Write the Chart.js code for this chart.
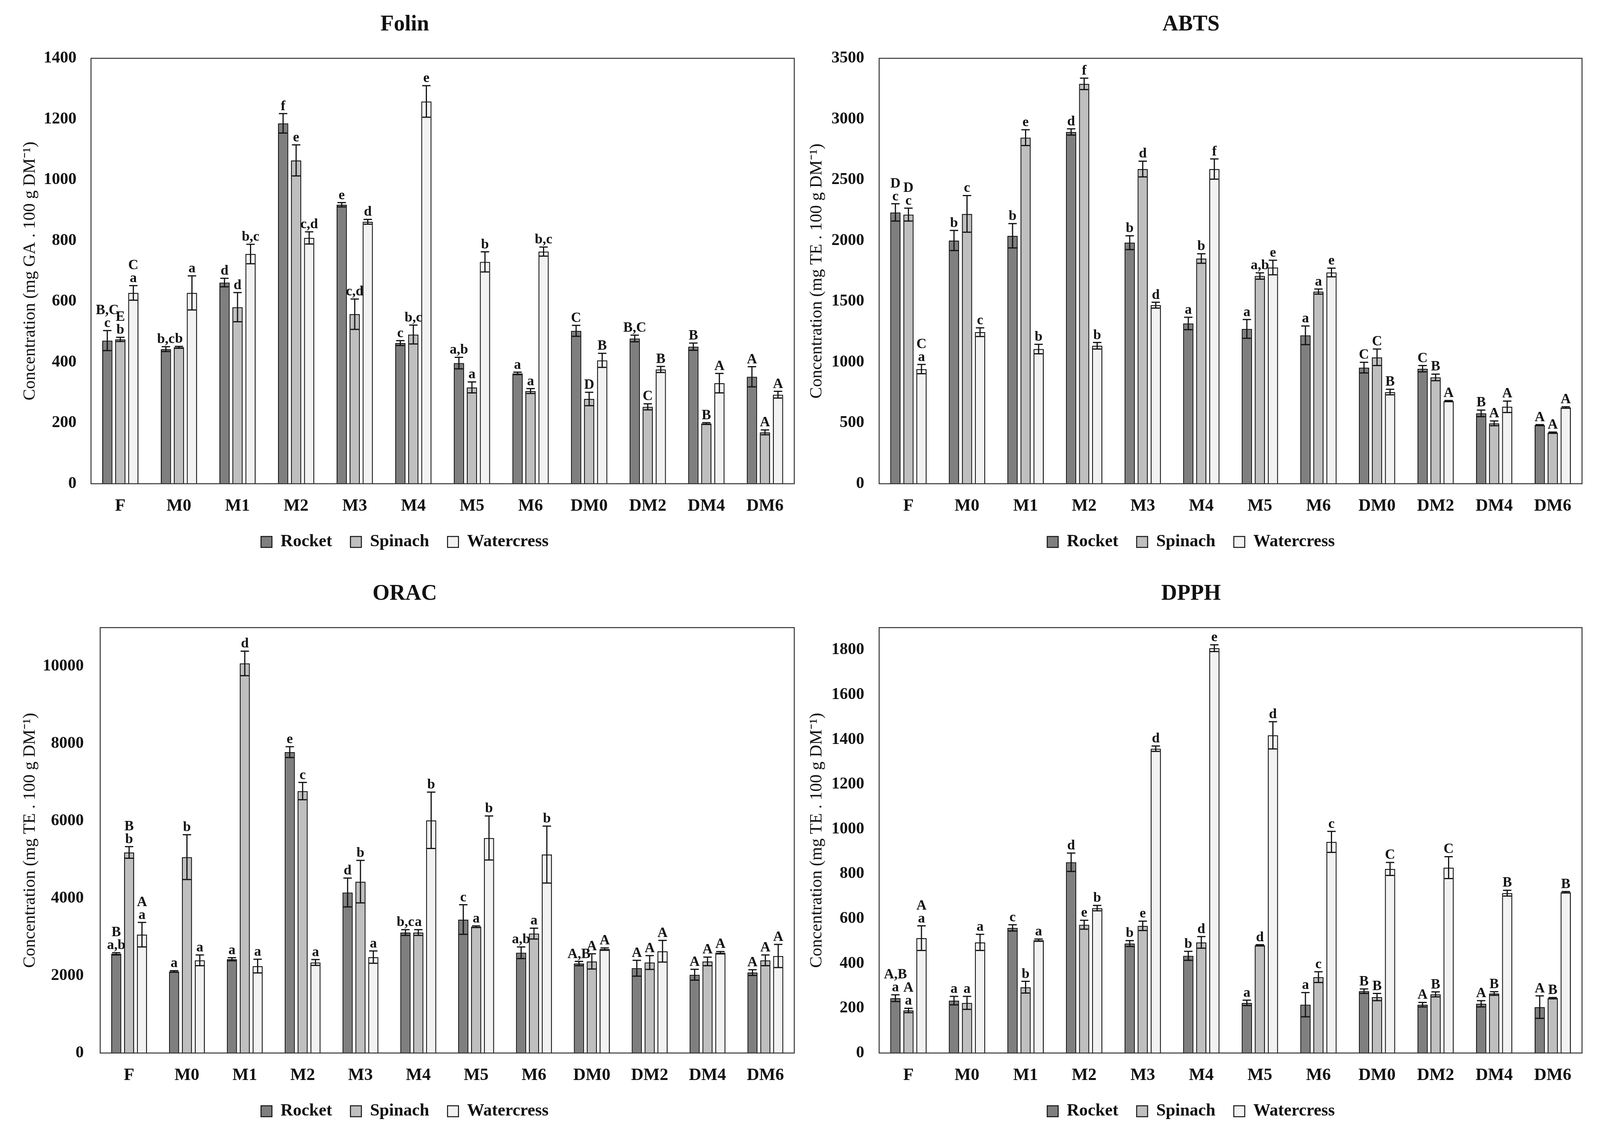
<!DOCTYPE html>
<html>
<head>
<meta charset="utf-8">
<script src="https://cdn.jsdelivr.net/npm/chart.js@4.4.1/dist/chart.umd.min.js"></script>
<style>
  html, body { margin: 0; padding: 0; background: #ffffff; overflow: hidden; }
  canvas { position: absolute; }
</style>
</head>
<body>
<canvas id="folin"></canvas>
<canvas id="abts"></canvas>
<canvas id="orac"></canvas>
<canvas id="dpph"></canvas>
<script>
// categories and series
const CATEGORIES = ['F', 'M0', 'M1', 'M2', 'M3', 'M4', 'M5', 'M6', 'DM0', 'DM2', 'DM4', 'DM6'];
const SERIES = ['Rocket', 'Spinach', 'Watercress'];

// Folin (mg GA . 100 g DM-1)
const FOLIN_ROCKET = [471, 443, 662, 1186, 918, 463, 397, 363, 503, 478, 451, 352];
const FOLIN_ROCKET_ERR = [33, 8, 14, 32, 7, 8, 19, 4, 18, 11, 12, 33];
const FOLIN_ROCKET_TAGS = ['B,C\nc', 'b,c', 'd', 'f', 'e', 'c', 'a,b', 'a', 'C', 'B,C', 'B', 'A'];
const FOLIN_SPINACH = [475, 449, 581, 1064, 558, 491, 317, 305, 279, 253, 198, 169];
const FOLIN_SPINACH_ERR = [7, 3, 48, 51, 50, 31, 18, 8, 22, 10, 3, 8];
const FOLIN_SPINACH_TAGS = ['E\nb', 'b', 'd', 'e', 'c,d', 'b,c', 'a', 'a', 'D', 'C', 'B', 'A'];
const FOLIN_WATERCRESS = [628, 628, 756, 809, 862, 1258, 730, 764, 406, 376, 331, 293];
const FOLIN_WATERCRESS_ERR = [24, 56, 32, 20, 8, 52, 33, 15, 23, 10, 32, 11];
const FOLIN_WATERCRESS_TAGS = ['C\na', 'a', 'b,c', 'c,d', 'd', 'e', 'b', 'b,c', 'B', 'B', 'A', 'A'];

// ABTS (mg TE . 100 g DM-1)
const ABTS_ROCKET = [2232, 2001, 2040, 2894, 1983, 1318, 1274, 1221, 955, 946, 579, 482];
const ABTS_ROCKET_ERR = [71, 83, 100, 26, 57, 51, 77, 77, 44, 26, 27, 4];
const ABTS_ROCKET_TAGS = ['D\nc', 'b', 'b', 'd', 'b', 'a', 'a', 'a', 'C', 'C', 'B', 'A'];
const ABTS_SPINACH = [2214, 2220, 2847, 3290, 2589, 1853, 1709, 1581, 1040, 875, 497, 420];
const ABTS_SPINACH_ERR = [53, 151, 65, 47, 65, 39, 26, 21, 68, 27, 20, 5];
const ABTS_SPINACH_TAGS = ['D\nc', 'c', 'e', 'f', 'd', 'b', 'a,b', 'a', 'C', 'B', 'A', 'A'];
const ABTS_WATERCRESS = [943, 1247, 1108, 1135, 1469, 2589, 1779, 1738, 754, 680, 633, 627];
const ABTS_WATERCRESS_ERR = [38, 36, 39, 27, 24, 83, 60, 36, 23, 5, 47, 6];
const ABTS_WATERCRESS_TAGS = ['C\na', 'c', 'b', 'b', 'd', 'f', 'e', 'e', 'B', 'A', 'A', 'A'];

// ORAC (mg TE . 100 g DM-1)
const ORAC_ROCKET = [2565, 2108, 2425, 7780, 4151, 3116, 3451, 2593, 2313, 2192, 2024, 2080];
const ORAC_ROCKET_ERR = [30, 20, 40, 140, 373, 75, 383, 150, 56, 205, 140, 75];
const ORAC_ROCKET_TAGS = ['B\na,b', 'a', 'a', 'e', 'd', 'b,c', 'c', 'a,b', 'A,B', 'A', 'A', 'A'];
const ORAC_SPINACH = [5187, 5065, 10075, 6772, 4431, 3116, 3265, 3088, 2369, 2341, 2369, 2397];
const ORAC_SPINACH_ERR = [150, 579, 317, 224, 550, 75, 20, 140, 196, 178, 112, 140];
const ORAC_SPINACH_TAGS = ['B\nb', 'b', 'd', 'c', 'b', 'a', 'a', 'a', 'A', 'A', 'A', 'A'];
const ORAC_WATERCRESS = [3060, 2397, 2248, 2341, 2481, 6017, 5560, 5131, 2687, 2631, 2593, 2509];
const ORAC_WATERCRESS_ERR = [317, 140, 177, 75, 159, 728, 569, 737, 30, 280, 30, 299];
const ORAC_WATERCRESS_TAGS = ['A\na', 'a', 'a', 'a', 'a', 'b', 'b', 'b', 'A', 'A', 'A', 'A'];

// DPPH (mg TE . 100 g DM-1)
const DPPH_ROCKET = [245, 234, 559, 852, 489, 434, 224, 216, 276, 216, 220, 205];
const DPPH_ROCKET_ERR = [15, 19, 14, 41, 13, 20, 12, 54, 10, 10, 14, 50];
const DPPH_ROCKET_TAGS = ['A,B\na', 'a', 'c', 'd', 'b', 'b', 'a', 'a', 'B', 'A', 'A', 'A'];
const DPPH_SPINACH = [190, 224, 294, 573, 568, 494, 481, 339, 250, 262, 266, 245];
const DPPH_SPINACH_ERR = [10, 29, 26, 20, 21, 26, 3, 24, 16, 11, 8, 3];
const DPPH_SPINACH_TAGS = ['A\na', 'a', 'b', 'e', 'e', 'd', 'd', 'c', 'B', 'B', 'B', 'B'];
const DPPH_WATERCRESS = [513, 494, 504, 647, 1359, 1808, 1419, 943, 822, 828, 714, 718];
const DPPH_WATERCRESS_ERR = [55, 36, 5, 12, 12, 15, 61, 47, 29, 49, 13, 3];
const DPPH_WATERCRESS_TAGS = ['A\na', 'a', 'a', 'b', 'd', 'e', 'd', 'c', 'C', 'C', 'B', 'B'];

// y axis tick labels and axis maxima
const FOLIN_TICKS = [0, 200, 400, 600, 800, 1000, 1200, 1400];
const ABTS_TICKS = [0, 500, 1000, 1500, 2000, 2500, 3000, 3500];
const ORAC_TICKS = [0, 2000, 4000, 6000, 8000, 10000];
const DPPH_TICKS = [0, 200, 400, 600, 800, 1000, 1200, 1400, 1600, 1800];
const FOLIN_MAX = 1400;
const ABTS_MAX = 3500;
const ORAC_MAX = 11000;
const DPPH_MAX = 1900;

const FILLS = ['#7f7f7f', '#bfbfbf', '#f2f2f2'];
const INK = '#111111';
const SERIF = '"Liberation Serif", "Times New Roman", serif';

Chart.defaults.font.family = SERIF;
Chart.defaults.color = INK;

// the design is laid out on 4184x2892; stretch it to the real viewport
const SX = window.innerWidth / 4184;
const SY = window.innerHeight / 2892;
const X = (v) => v * SX;
const Y = (v) => v * SY;

function placeCanvas(id, left, top) {
  const c = document.getElementById(id);
  c.width = Math.round(X(2092));
  c.height = Math.round(Y(1435));
  c.style.left = Math.round(X(left)) + 'px';
  c.style.top = Math.round(Y(top)) + 'px';
  return c;
}

// plot frame around the chart area
const framePlugin = {
  id: 'plotFrame',
  afterDatasetsDraw(chart) {
    const { ctx, chartArea: a } = chart;
    ctx.save();
    ctx.strokeStyle = '#333333';
    ctx.lineWidth = 2.5;
    ctx.strokeRect(a.left, a.top, a.right - a.left, a.bottom - a.top);
    ctx.restore();
  }
};

// error bars + significance letters
const errorBarPlugin = {
  id: 'errorBars',
  afterDatasetsDraw(chart) {
    const ctx = chart.ctx;
    const y = chart.scales.y;
    const cap = X(11);
    ctx.save();
    chart.data.datasets.forEach((ds, i) => {
      const meta = chart.getDatasetMeta(i);
      meta.data.forEach((bar, j) => {
        const v = ds.data[j];
        const e = ds.errors[j];
        const x = bar.x;
        const top = y.getPixelForValue(v + e);
        const bot = y.getPixelForValue(v - e);
        ctx.strokeStyle = INK;
        ctx.lineWidth = 3;
        ctx.beginPath();
        ctx.moveTo(x, top); ctx.lineTo(x, bot);
        ctx.moveTo(x - cap, top); ctx.lineTo(x + cap, top);
        ctx.moveTo(x - cap, bot); ctx.lineTo(x + cap, bot);
        ctx.stroke();

        const lines = ds.tags[j].split('\n');
        ctx.font = 'bold 36px ' + SERIF;
        ctx.fillStyle = INK;
        ctx.textAlign = 'center';
        ctx.textBaseline = 'alphabetic';
        let ty = top - Y(9);
        for (let k = lines.length - 1; k >= 0; k--) {
          ctx.fillText(lines[k], x, ty);
          ty -= Y(33);
        }
      });
    });
    ctx.restore();
  }
};

function buildChart(canvas, title, yTitle, yMax, yTicks, rows, geo) {
  const datasets = rows.map((r, i) => ({
    label: SERIES[i],
    data: r[0],
    errors: r[1],
    tags: r[2],
    backgroundColor: FILLS[i],
    borderColor: INK,
    borderWidth: 2.5,
    categoryPercentage: 0.667,
    barPercentage: 0.79
  }));

  return new Chart(canvas, {
    type: 'bar',
    data: { labels: CATEGORIES, datasets },
    plugins: [framePlugin, errorBarPlugin],
    options: {
      responsive: false,
      devicePixelRatio: 1,
      animation: false,
      layout: { padding: { left: X(geo.padLeft), right: X(geo.padRight), top: 0, bottom: Y(16) } },
      plugins: {
        title: {
          display: true,
          text: title,
          color: INK,
          font: { size: 56, weight: 'bold', lineHeight: 1.2 },
          padding: { top: Y(30), bottom: Y(52) }
        },
        legend: {
          position: 'bottom',
          labels: {
            boxWidth: 28,
            boxHeight: 28,
            padding: Y(47),
            color: INK,
            font: { size: 44, weight: 'bold', lineHeight: 1.0 }
          }
        },
        tooltip: { enabled: false }
      },
      scales: {
        x: {
          afterFit(scale) { scale.height = Y(80); },
          grid: { display: false, drawTicks: false },
          border: { display: false },
          ticks: {
            padding: Y(36),
            color: INK,
            font: { size: 44, weight: 'bold', lineHeight: 1.0 }
          }
        },
        y: {
          min: 0,
          max: yMax,
          afterBuildTicks(scale) { scale.ticks = yTicks.map(v => ({ value: v })); },
          afterFit(scale) { scale.width = X(geo.axisWidth); },
          grid: { display: false, drawTicks: false },
          border: { display: false },
          ticks: {
            padding: X(geo.tickPad),
            color: INK,
            font: { size: 42, weight: 'bold' },
            callback: (v) => String(v)
          },
          title: {
            display: true,
            text: yTitle,
            color: INK,
            font: { size: 44, weight: 'normal', lineHeight: 1.0 },
            padding: { top: X(geo.titlePad), bottom: 0 }
          }
        }
      }
    }
  });
}

// horizontal geometry, in design pixels
const GEO_FOLIN = { padLeft: 40, padRight: 15, axisWidth: 198, tickPad: 38, titlePad: 17 };
const GEO_ORAC = { padLeft: 40, padRight: 15, axisWidth: 222, tickPad: 43, titlePad: 17 };
const GEO_RIGHT = { padLeft: 0, padRight: 47, axisWidth: 207, tickPad: 39, titlePad: 22 };

buildChart(placeCanvas('folin', 0, 0), 'Folin', 'Concentration (mg GA . 100 g DM\u207B\u00B9)',
  FOLIN_MAX, FOLIN_TICKS, [
    [FOLIN_ROCKET, FOLIN_ROCKET_ERR, FOLIN_ROCKET_TAGS],
    [FOLIN_SPINACH, FOLIN_SPINACH_ERR, FOLIN_SPINACH_TAGS],
    [FOLIN_WATERCRESS, FOLIN_WATERCRESS_ERR, FOLIN_WATERCRESS_TAGS]
  ], GEO_FOLIN);

buildChart(placeCanvas('abts', 2092, 0), 'ABTS', 'Concentration (mg TE . 100 g DM\u207B\u00B9)',
  ABTS_MAX, ABTS_TICKS, [
    [ABTS_ROCKET, ABTS_ROCKET_ERR, ABTS_ROCKET_TAGS],
    [ABTS_SPINACH, ABTS_SPINACH_ERR, ABTS_SPINACH_TAGS],
    [ABTS_WATERCRESS, ABTS_WATERCRESS_ERR, ABTS_WATERCRESS_TAGS]
  ], GEO_RIGHT);

buildChart(placeCanvas('orac', 0, 1457), 'ORAC', 'Concentration (mg TE . 100 g DM\u207B\u00B9)',
  ORAC_MAX, ORAC_TICKS, [
    [ORAC_ROCKET, ORAC_ROCKET_ERR, ORAC_ROCKET_TAGS],
    [ORAC_SPINACH, ORAC_SPINACH_ERR, ORAC_SPINACH_TAGS],
    [ORAC_WATERCRESS, ORAC_WATERCRESS_ERR, ORAC_WATERCRESS_TAGS]
  ], GEO_ORAC);

buildChart(placeCanvas('dpph', 2092, 1457), 'DPPH', 'Concentration (mg TE . 100 g DM\u207B\u00B9)',
  DPPH_MAX, DPPH_TICKS, [
    [DPPH_ROCKET, DPPH_ROCKET_ERR, DPPH_ROCKET_TAGS],
    [DPPH_SPINACH, DPPH_SPINACH_ERR, DPPH_SPINACH_TAGS],
    [DPPH_WATERCRESS, DPPH_WATERCRESS_ERR, DPPH_WATERCRESS_TAGS]
  ], GEO_RIGHT);
</script>
</body>
</html>
